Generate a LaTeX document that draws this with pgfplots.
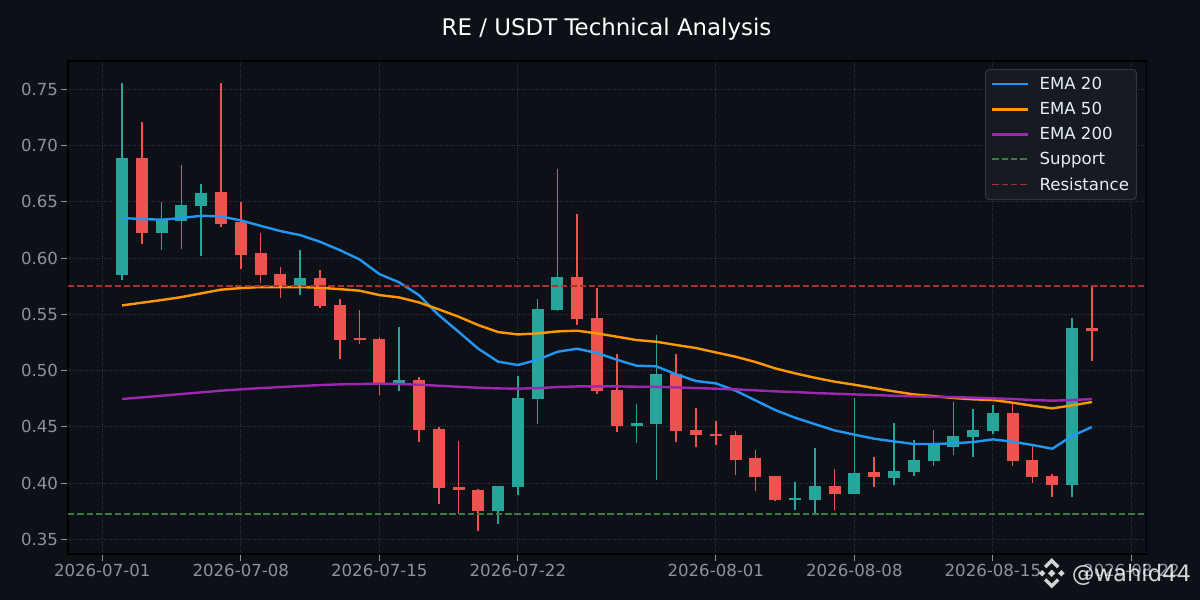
\documentclass[border=0pt]{standalone}
\usepackage{fontspec}
\setmainfont{DejaVu Sans}
\usepackage{pgfplots}
\pgfplotsset{compat=1.18}
\usepackage{pgfplotstable}
\definecolor{bg}{HTML}{0D1117}
\definecolor{upc}{HTML}{26A69A}
\definecolor{dnc}{HTML}{EF5350}
\definecolor{emaA}{HTML}{2196F3}
\definecolor{emaB}{HTML}{FF9800}
\definecolor{emaC}{HTML}{9C27B0}
\definecolor{supc}{HTML}{3A7D3E}
\definecolor{resc}{HTML}{A8322F}
\definecolor{tickc}{HTML}{8B949E}
\definecolor{gridc}{HTML}{30363D}
\definecolor{legbg}{HTML}{161B22}
\definecolor{legedge}{HTML}{30363D}
\definecolor{legtext}{HTML}{E6EDF3}

% up candles: day, bottom of body (open), top of body (close), low, high
\pgfplotstableread{
d bot top l h
1 0.5849 0.6880 0.5804 0.7556
3 0.6222 0.6329 0.6071 0.6495
4 0.6329 0.6462 0.6080 0.6827
5 0.6462 0.6569 0.6018 0.6658
10 0.5751 0.5813 0.5671 0.6071
15 0.4889 0.4907 0.4818 0.5387
20 0.3751 0.3964 0.3636 0.3964
21 0.3964 0.4747 0.3893 0.4951
22 0.4747 0.5538 0.4524 0.5636
23 0.5538 0.5822 0.5529 0.6791
27 0.4507 0.4524 0.4356 0.4702
28 0.4524 0.4960 0.4027 0.5316
35 0.3849 0.3855 0.3760 0.4009
36 0.3849 0.3964 0.3724 0.4311
38 0.3902 0.4080 0.3902 0.4756
40 0.4044 0.4098 0.3982 0.4533
41 0.4098 0.4196 0.4062 0.4382
42 0.4196 0.4329 0.4151 0.4471
43 0.4320 0.4409 0.4249 0.4720
44 0.4409 0.4462 0.4231 0.4658
45 0.4462 0.4613 0.4436 0.4693
49 0.3982 0.5369 0.3876 0.5467
}\upT
% down candles: day, bottom of body (close), top of body (open), low, high
\pgfplotstableread{
d bot top l h
2 0.6222 0.6880 0.6124 0.7209
6 0.6302 0.6578 0.6276 0.7556
7 0.6027 0.6311 0.5902 0.6495
8 0.5849 0.6036 0.5778 0.6222
9 0.5751 0.5849 0.5644 0.5920
11 0.5573 0.5813 0.5556 0.5893
12 0.5271 0.5573 0.5102 0.5636
13 0.5271 0.5280 0.5236 0.5538
14 0.4889 0.5271 0.4779 0.5298
16 0.4471 0.4907 0.4364 0.4942
17 0.3956 0.4471 0.3813 0.4498
18 0.3938 0.3956 0.3724 0.4373
19 0.3751 0.3929 0.3573 0.3947
24 0.5458 0.5822 0.5404 0.6391
25 0.4818 0.5458 0.4791 0.5733
26 0.4507 0.4818 0.4453 0.5147
29 0.4462 0.4960 0.4364 0.5147
30 0.4427 0.4462 0.4320 0.4667
31 0.4418 0.4427 0.4338 0.4551
32 0.4204 0.4418 0.4071 0.4462
33 0.4053 0.4213 0.3929 0.4293
34 0.3849 0.4053 0.3840 0.4053
37 0.3902 0.3964 0.3760 0.4124
39 0.4053 0.4089 0.3964 0.4231
46 0.4196 0.4613 0.4151 0.4711
47 0.4053 0.4196 0.4000 0.4329
48 0.3982 0.4053 0.3876 0.4080
50 0.5351 0.5369 0.5084 0.5751
}\dnT
\pgfplotstableread{
d e20 e50 e200
1 0.6356 0.5579 0.4747
2 0.6347 0.5603 0.4761
3 0.6341 0.5627 0.4776
4 0.6356 0.5653 0.4791
5 0.6376 0.5686 0.4806
6 0.6370 0.5719 0.4821
7 0.6335 0.5733 0.4833
8 0.6287 0.5742 0.4844
9 0.6240 0.5742 0.4853
10 0.6204 0.5742 0.4862
11 0.6145 0.5736 0.4871
12 0.6071 0.5724 0.4877
13 0.5988 0.5710 0.4880
14 0.5858 0.5671 0.4883
15 0.5784 0.5650 0.4880
16 0.5671 0.5606 0.4874
17 0.5493 0.5544 0.4865
18 0.5345 0.5479 0.4856
19 0.5194 0.5404 0.4847
20 0.5079 0.5342 0.4841
21 0.5049 0.5321 0.4839
22 0.5096 0.5330 0.4844
23 0.5167 0.5348 0.4853
24 0.5194 0.5354 0.4859
25 0.5156 0.5330 0.4859
26 0.5096 0.5301 0.4859
27 0.5043 0.5271 0.4856
28 0.5037 0.5256 0.4856
29 0.4966 0.5227 0.4850
30 0.4907 0.5200 0.4844
31 0.4886 0.5161 0.4839
32 0.4821 0.5123 0.4833
33 0.4735 0.5076 0.4824
34 0.4649 0.5019 0.4815
35 0.4581 0.4975 0.4809
36 0.4524 0.4936 0.4800
37 0.4468 0.4901 0.4794
38 0.4430 0.4874 0.4788
39 0.4394 0.4844 0.4782
40 0.4370 0.4815 0.4776
41 0.4347 0.4788 0.4770
42 0.4347 0.4773 0.4767
43 0.4353 0.4756 0.4764
44 0.4364 0.4744 0.4759
45 0.4388 0.4738 0.4753
46 0.4367 0.4714 0.4747
47 0.4338 0.4687 0.4738
48 0.4305 0.4664 0.4732
49 0.4418 0.4690 0.4738
50 0.4498 0.4720 0.4747
}\emaT

\begin{document}
\begin{tikzpicture}[x=1pt,y=1pt]
\fill[bg] (0,0) rectangle (1200,600);
\useasboundingbox (0,0) rectangle (1200,600);
\node[anchor=base, text=white, font=\fontsize{22.9}{27}\selectfont, inner sep=0pt] at (606.5,564.3) {RE / USDT Technical Analysis};
\begin{axis}[
  scale only axis, width=1078.7pt, height=493pt,
  at={(68pt,46pt)}, anchor=south west,
  xmin=-1.73, xmax=52.77, ymin=0.3369, ymax=0.7752,
  axis background/.style={fill=bg},
  axis line style={draw=black, line width=1.2pt},
  xtick={0,7,14,21,31,38,45,52},
  xticklabels={2026-07-01,2026-07-08,2026-07-15,2026-07-22,2026-08-01,2026-08-08,2026-08-15,2026-08-22},
  ytick={0.35,0.40,0.45,0.50,0.55,0.60,0.65,0.70,0.75},
  grid=major, major grid style={dotted, draw=gridc, line width=0.9pt},
  tick align=outside, tick pos=left, major tick length=6.5pt,
  tick style={draw=tickc, line width=1pt},
  ticklabel style={font=\fontsize{16.6}{20}\selectfont, text=tickc},
  /pgf/number format/assume math mode=true,
  yticklabel style={/pgf/number format/.cd, fixed, fixed zerofill, precision=2},
  legend style={at={(0.991,0.984)}, anchor=north east, fill=legbg, draw=legedge,
    rounded corners=4pt, text=legtext, font=\fontsize{16.6}{20}\selectfont,
    line width=1pt, inner xsep=5.5pt, inner ysep=6pt, row sep=7.2pt,
    /tikz/every odd column/.append style={column sep=8pt}},
  legend cell align=left,
  legend image code/.code={\draw[#1] (0pt,0pt) -- (36pt,0pt);},
]
% wicks
\addplot[draw=none, forget plot, error bars/.cd, y dir=plus, y explicit, error mark=none,
  error bar style={draw=upc, line width=1.6pt, solid}]
  table[x=d, y=l, y error plus expr=\thisrow{h}-\thisrow{l}] {\upT};
\addplot[draw=none, forget plot, error bars/.cd, y dir=plus, y explicit, error mark=none,
  error bar style={draw=dnc, line width=1.6pt, solid}]
  table[x=d, y=l, y error plus expr=\thisrow{h}-\thisrow{l}] {\dnT};
% bodies
\addplot[draw=none, forget plot, error bars/.cd, y dir=plus, y explicit, error mark=none,
  error bar style={draw=upc, line width=12pt, solid}]
  table[x=d, y=bot, y error plus expr=\thisrow{top}-\thisrow{bot}+0.0012] {\upT};
\addplot[draw=none, forget plot, error bars/.cd, y dir=plus, y explicit, error mark=none,
  error bar style={draw=dnc, line width=12pt, solid}]
  table[x=d, y=bot, y error plus expr=\thisrow{top}-\thisrow{bot}+0.0012] {\dnT};
% EMAs
\addplot[emaA, line width=2.4pt] table[x=d, y=e20] {\emaT};
\addlegendentry{EMA 20}
\addplot[emaB, line width=2.4pt] table[x=d, y=e50] {\emaT};
\addlegendentry{EMA 50}
\addplot[emaC, line width=2.4pt] table[x=d, y=e200] {\emaT};
\addlegendentry{EMA 200}
\addplot[supc, line width=1.9pt, dash pattern=on 6.5pt off 2.8pt] coordinates {(-1.73,0.3724) (52.77,0.3724)};
\addlegendentry{Support}
\addplot[resc, line width=1.9pt, dash pattern=on 6.5pt off 2.8pt] coordinates {(-1.73,0.5751) (52.77,0.5751)};
\addlegendentry{Resistance}
\end{axis}
% watermark
\begin{scope}[shift={(1051.7,26.7)}, draw=white, fill=white, opacity=0.82]
  \fill[rotate=45] (-2.6,-2.6) rectangle (2.6,2.6);
  \fill[shift={(-9.6,0)},rotate=45] (-2.3,-2.3) rectangle (2.3,2.3);
  \fill[shift={(9.6,0)},rotate=45] (-2.3,-2.3) rectangle (2.3,2.3);
  \draw[line width=3.4pt, line join=miter] (-6.5,6.2) -- (0,12.7) -- (6.5,6.2);
  \draw[line width=3.4pt, line join=miter] (-6.5,-6.2) -- (0,-12.7) -- (6.5,-6.2);
\end{scope}
\node[anchor=base west, inner sep=0pt, text=white, opacity=0.82, font=\fontsize{22.7}{26}\selectfont] at (1071.7,19) {@wahid44};
\end{tikzpicture}
\end{document}
